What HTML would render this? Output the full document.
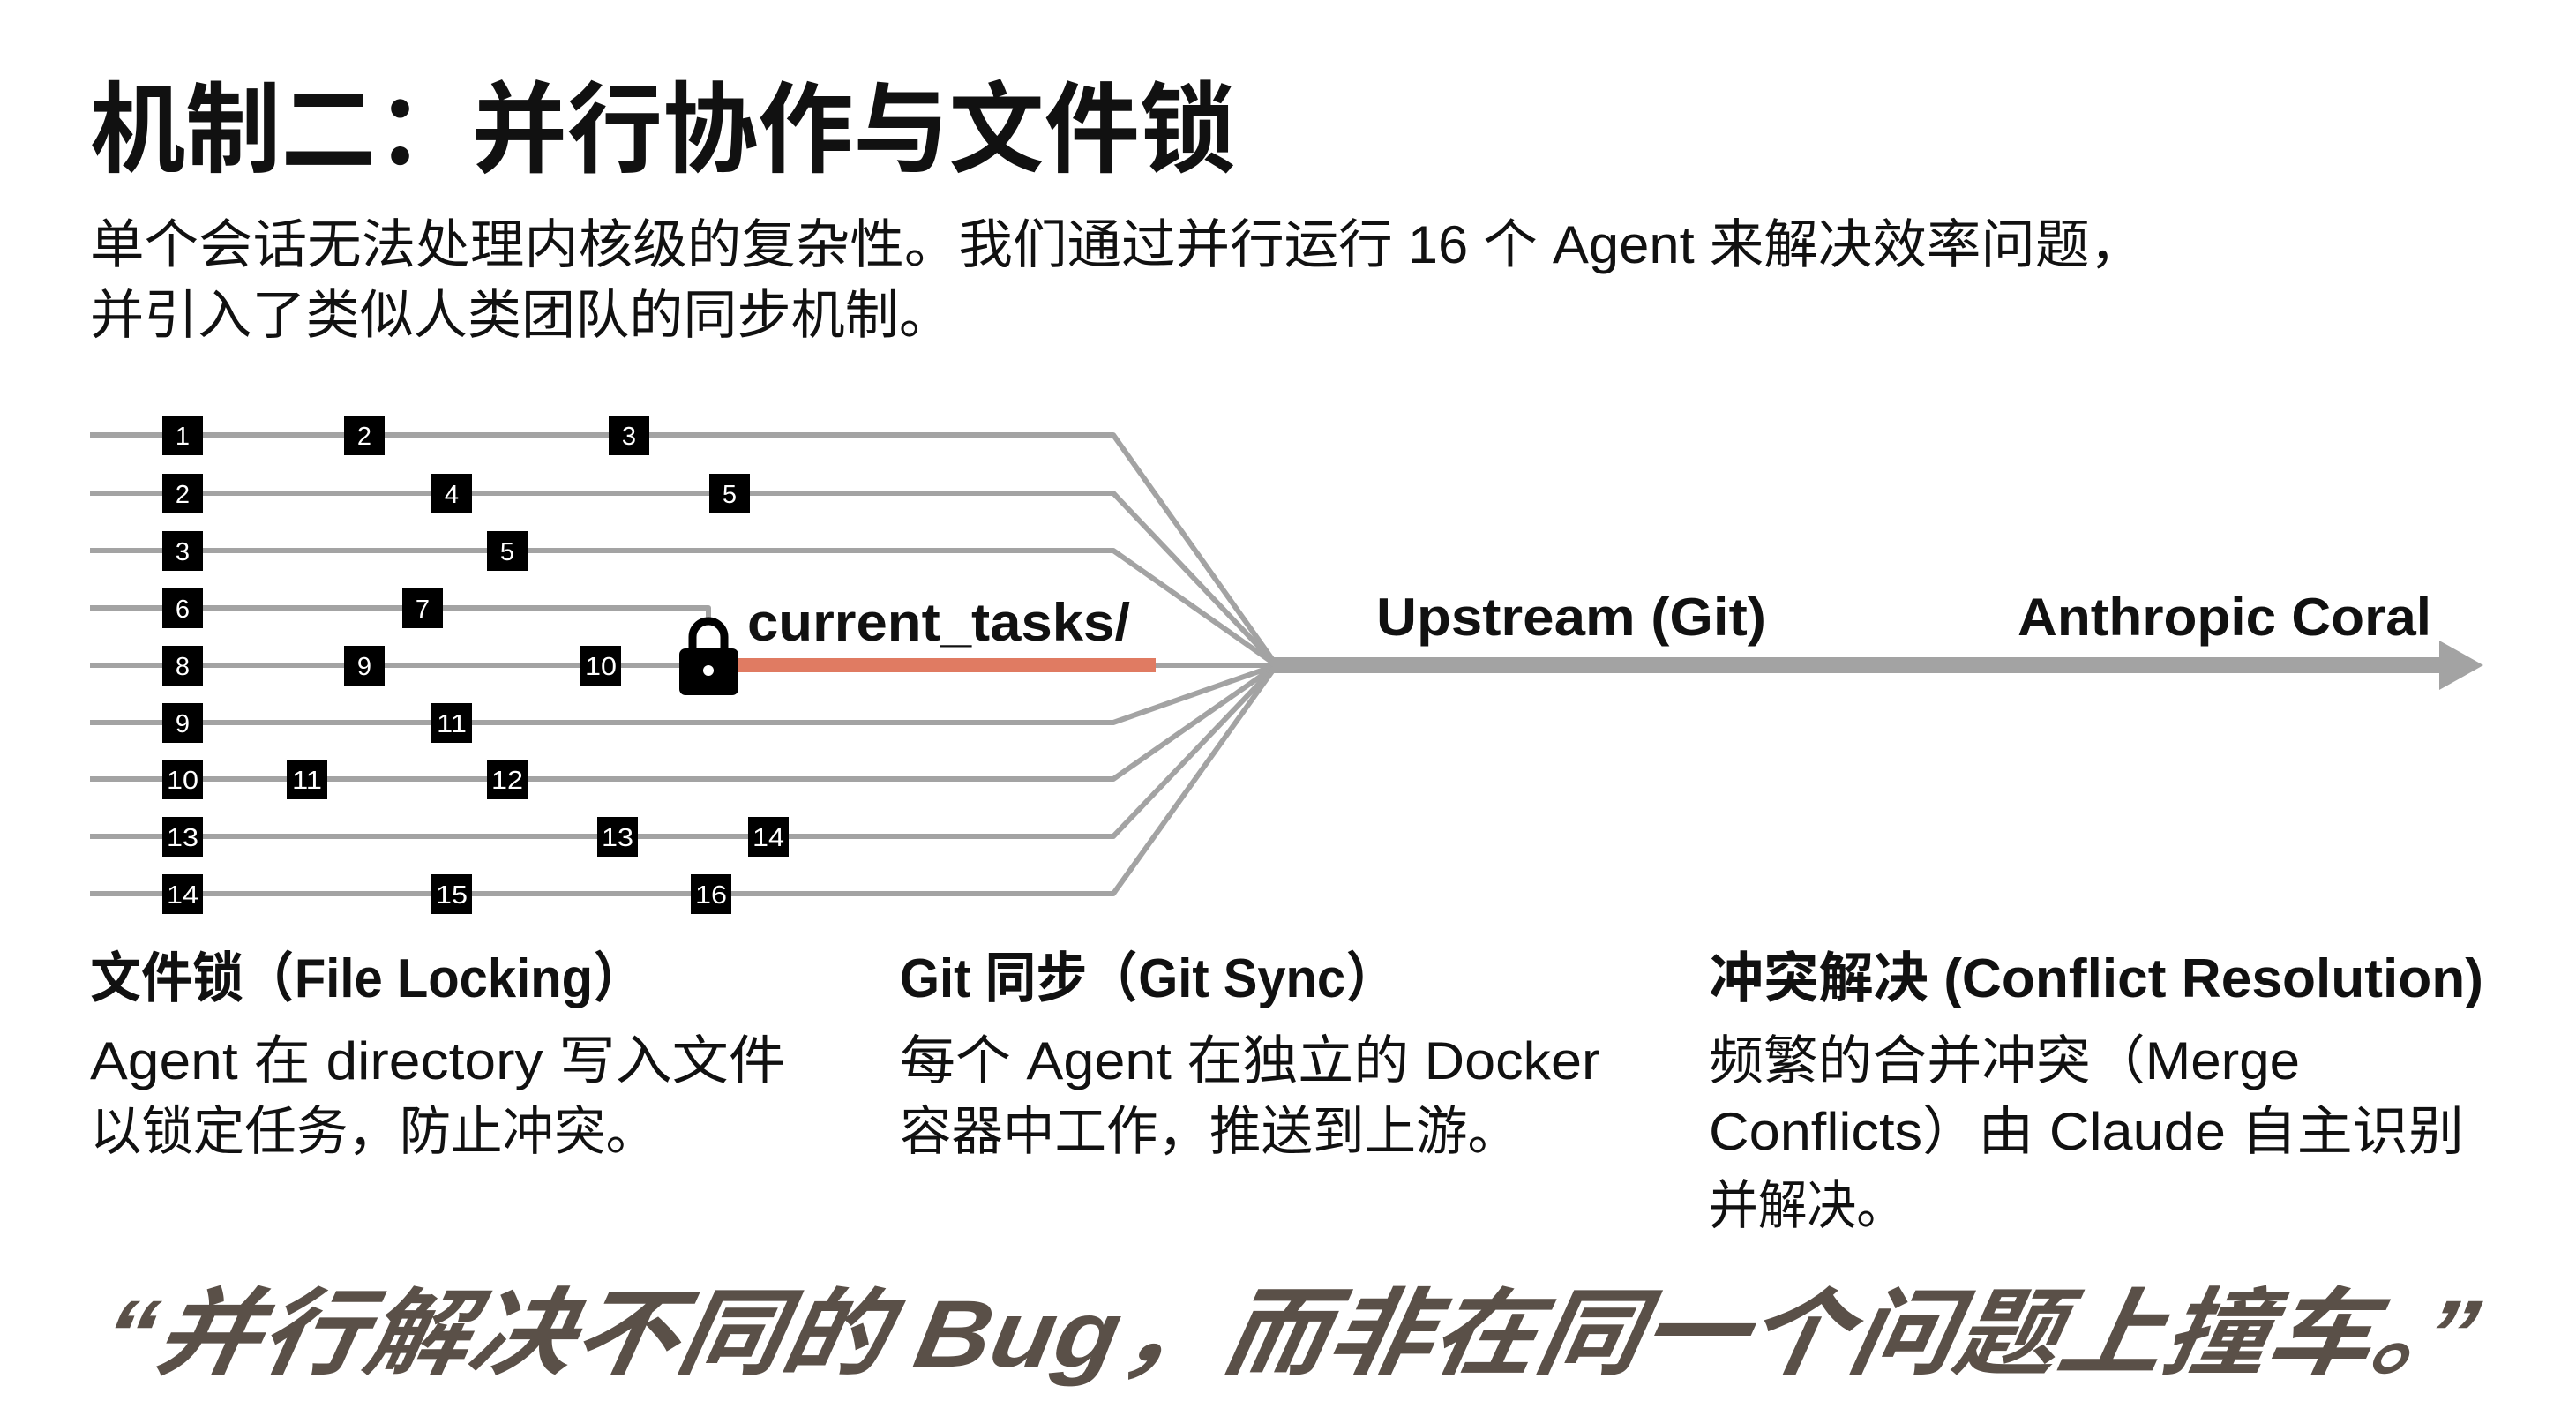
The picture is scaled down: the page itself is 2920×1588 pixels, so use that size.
<!DOCTYPE html>
<html><head><meta charset="utf-8"><style>
html,body{margin:0;padding:0;background:#fff;}
svg{display:block;}
text{font-family:"Liberation Sans","Noto Sans CJK SC",sans-serif;}
</style></head><body>
<svg width="2920" height="1588" viewBox="0 0 2920 1588" xmlns="http://www.w3.org/2000/svg">
<rect width="2920" height="1588" fill="#fff"/>
<text x="102" y="186" font-size="112" font-weight="bold" fill="#111" textLength="1298" lengthAdjust="spacingAndGlyphs">机制二：并行协作与文件锁</text>
<text x="102" y="298" font-size="60" fill="#111" textLength="2328" lengthAdjust="spacingAndGlyphs">单个会话无法处理内核级的复杂性。我们通过并行运行 16 个 Agent 来解决效率问题，</text>
<text x="102" y="378" font-size="60" fill="#111" textLength="978" lengthAdjust="spacingAndGlyphs">并引入了类似人类团队的同步机制。</text>

<g fill="none" stroke="#a3a3a3" stroke-width="6" stroke-linejoin="round">
<polyline points="102,493 1262,493 1447,754"/>
<polyline points="102,559 1262,559 1447,754"/>
<polyline points="102,624 1262,624 1447,754"/>
<polyline points="102,689 803,689 803,705"/>
<polyline points="102,754 1447,754"/>
<polyline points="102,819 1262,819 1447,754"/>
<polyline points="102,883 1262,883 1447,754"/>
<polyline points="102,948 1262,948 1447,754"/>
<polyline points="102,1013 1262,1013 1447,754"/>
</g>
<rect x="836" y="746" width="474" height="16" fill="#e07b62"/>
<rect x="1443" y="745" width="1325" height="18" fill="#a3a3a3"/>
<polygon points="2765,726 2815,754 2765,782" fill="#a3a3a3"/>

<path d="M785,740 V722 A18,18 0 0 1 821,722 V740" fill="none" stroke="#000" stroke-width="9"/>
<rect x="770" y="735" width="67" height="53" rx="7" fill="#000"/>
<circle cx="803" cy="760" r="6" fill="#fff"/>

<g font-size="29" fill="#fff" text-anchor="middle">
<g fill="#000">
<rect x="184" y="471" width="46" height="45"/><rect x="390" y="471" width="46" height="45"/><rect x="690" y="471" width="46" height="45"/>
<rect x="184" y="537" width="46" height="45"/><rect x="489" y="537" width="46" height="45"/><rect x="804" y="537" width="46" height="45"/>
<rect x="184" y="602" width="46" height="45"/><rect x="552" y="602" width="46" height="45"/>
<rect x="184" y="667" width="46" height="45"/><rect x="456" y="667" width="46" height="45"/>
<rect x="184" y="732" width="46" height="45"/><rect x="390" y="732" width="46" height="45"/><rect x="658" y="732" width="46" height="45"/>
<rect x="184" y="797" width="46" height="45"/><rect x="489" y="797" width="46" height="45"/>
<rect x="184" y="861" width="46" height="45"/><rect x="325" y="861" width="46" height="45"/><rect x="552" y="861" width="46" height="45"/>
<rect x="184" y="926" width="46" height="45"/><rect x="677" y="926" width="46" height="45"/><rect x="848" y="926" width="46" height="45"/>
<rect x="184" y="991" width="46" height="45"/><rect x="489" y="991" width="46" height="45"/><rect x="783" y="991" width="46" height="45"/>
</g>
<text x="207" y="504">1</text><text x="413" y="504">2</text><text x="713" y="504">3</text>
<text x="207" y="570">2</text><text x="512" y="570">4</text><text x="827" y="570">5</text>
<text x="207" y="635">3</text><text x="575" y="635">5</text>
<text x="207" y="700">6</text><text x="479" y="700">7</text>
<text x="207" y="765">8</text><text x="413" y="765">9</text><text x="681" y="765" textLength="36" lengthAdjust="spacingAndGlyphs">10</text>
<text x="207" y="830">9</text><text x="512" y="830" textLength="34" lengthAdjust="spacingAndGlyphs">11</text>
<text x="207" y="894" textLength="36" lengthAdjust="spacingAndGlyphs">10</text><text x="348" y="894" textLength="34" lengthAdjust="spacingAndGlyphs">11</text><text x="575" y="894" textLength="36" lengthAdjust="spacingAndGlyphs">12</text>
<text x="207" y="959" textLength="36" lengthAdjust="spacingAndGlyphs">13</text><text x="700" y="959" textLength="36" lengthAdjust="spacingAndGlyphs">13</text><text x="871" y="959" textLength="36" lengthAdjust="spacingAndGlyphs">14</text>
<text x="207" y="1024" textLength="36" lengthAdjust="spacingAndGlyphs">14</text><text x="512" y="1024" textLength="36" lengthAdjust="spacingAndGlyphs">15</text><text x="806" y="1024" textLength="36" lengthAdjust="spacingAndGlyphs">16</text>
</g>

<text x="847" y="726" font-size="60" font-weight="bold" fill="#111" textLength="434" lengthAdjust="spacingAndGlyphs">current_tasks/</text>
<text x="1560" y="720" font-size="60" font-weight="bold" fill="#111" textLength="442" lengthAdjust="spacingAndGlyphs">Upstream (Git)</text>
<text x="2287" y="720" font-size="60" font-weight="bold" fill="#111" textLength="469" lengthAdjust="spacingAndGlyphs">Anthropic Coral</text>

<g font-weight="bold" font-size="62" fill="#111">
<text x="102" y="1130" textLength="628" lengthAdjust="spacingAndGlyphs">文件锁（File Locking）</text>
<text x="1020" y="1130" textLength="563" lengthAdjust="spacingAndGlyphs">Git 同步（Git Sync）</text>
<text x="1937" y="1130" textLength="878" lengthAdjust="spacingAndGlyphs">冲突解决 (Conflict Resolution)</text>
</g>
<g font-size="60" fill="#111">
<text x="102" y="1223" textLength="788" lengthAdjust="spacingAndGlyphs">Agent 在 directory 写入文件</text>
<text x="102" y="1303" textLength="643" lengthAdjust="spacingAndGlyphs">以锁定任务，防止冲突。</text>
<text x="1020" y="1223" textLength="794" lengthAdjust="spacingAndGlyphs">每个 Agent 在独立的 Docker</text>
<text x="1020" y="1303" textLength="702" lengthAdjust="spacingAndGlyphs">容器中工作，推送到上游。</text>
<text x="1937" y="1223" textLength="670" lengthAdjust="spacingAndGlyphs">频繁的合并冲突（Merge</text>
<text x="1937" y="1303" textLength="856" lengthAdjust="spacingAndGlyphs">Conflicts）由 Claude 自主识别</text>
<text x="1937" y="1387" textLength="223" lengthAdjust="spacingAndGlyphs">并解决。</text>
</g>
<text x="112" y="1549" font-size="108" font-weight="bold" font-style="italic" fill="#5a5048" textLength="2690" lengthAdjust="spacingAndGlyphs" transform="skewX(-10) translate(273,0)">“并行解决不同的 Bug，而非在同一个问题上撞车。”</text>
</svg>
</body></html>
